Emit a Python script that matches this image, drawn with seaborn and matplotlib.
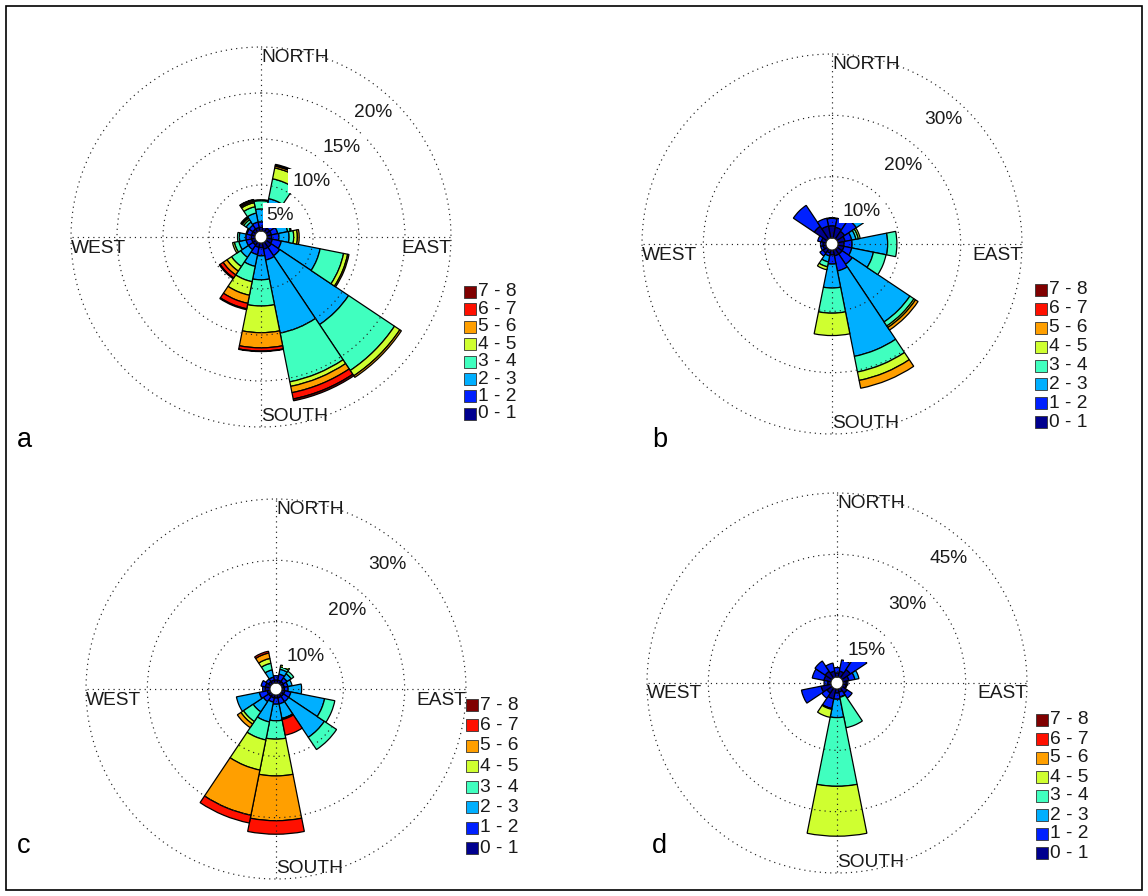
import numpy as np
import matplotlib
matplotlib.use("Agg")
import matplotlib.pyplot as plt
from matplotlib.patches import Rectangle
import seaborn as sns

sns.set_style("white")
plt.rcParams['font.family'] = ['Liberation Sans', 'DejaVu Sans']

# ---------------- data ----------------
directions = ["N", "NNE", "NE", "ENE", "E", "ESE", "SE", "SSE",
              "S", "SSW", "SW", "WSW", "W", "WNW", "NW", "NNW"]
direction_deg = [0, 22.5, 45, 67.5, 90, 112.5, 135, 157.5,
                 180, 202.5, 225, 247.5, 270, 292.5, 315, 337.5]
speed_classes = ["0 - 1", "1 - 2", "2 - 3", "3 - 4", "4 - 5", "5 - 6", "6 - 7", "7 - 8"]

# cumulative frequency (%) per direction, speed classes 0-1 ... 7-8
cum_a = [
    [0.4, 1.0, 2.4, 3.3, 3.4, 3.4, 3.4, 3.4],       # N
    [0.5, 1.2, 3.6, 5.8, 7.0, 7.2, 7.3, 7.4],       # NNE
    [0.5, 1.1, 2.2, 2.9, 3.0, 3.0, 3.0, 3.0],       # NE
    [0.5, 1.2, 2.3, 2.6, 2.7, 2.7, 2.7, 2.7],       # ENE
    [0.5, 1.3, 2.4, 2.9, 3.3, 3.5, 3.5, 3.5],       # E
    [0.6, 1.6, 5.9, 8.5, 8.95, 9.1, 9.1, 9.1],      # ESE
    [0.7, 1.8, 10.8, 16.8, 17.5, 17.7, 17.7, 17.7], # SE
    [0.7, 1.9, 10.0, 15.4, 15.9, 16.6, 17.3, 17.5], # SSE
    [0.5, 1.4, 4.0, 6.85, 9.75, 11.4, 11.75, 11.8], # S
    [0.5, 1.3, 2.6, 4.3, 5.8, 6.7, 7.3, 7.4],       # SSW
    [0.4, 1.0, 2.0, 3.2, 3.8, 4.3, 4.7, 4.8],       # SW
    [0.4, 1.0, 1.8, 2.3, 2.5, 2.5, 2.5, 2.5],       # WSW
    [0.4, 1.0, 1.7, 1.9, 1.9, 1.9, 1.9, 1.9],       # W
    [0.4, 0.9, 1.0, 1.0, 1.0, 1.0, 1.0, 1.0],       # WNW
    [0.4, 0.9, 1.3, 1.6, 1.8, 1.9, 2.0, 2.0],       # NW
    [0.4, 1.0, 2.0, 2.7, 3.15, 3.3, 3.45, 3.5],     # NNW
]
cum_b = [
    [2.0, 3.2, 3.3, 3.3, 3.3, 3.3, 3.3, 3.3],
    [1.8, 3.3, 3.3, 3.3, 3.3, 3.3, 3.3, 3.3],
    [1.5, 3.8, 5.2, 5.2, 5.2, 5.2, 5.2, 5.2],
    [1.2, 2.3, 3.0, 3.4, 3.7, 3.7, 3.7, 3.7],
    [1.0, 2.3, 8.1, 9.6, 9.6, 9.6, 9.6, 9.6],
    [1.0, 2.3, 5.9, 8.0, 8.0, 8.0, 8.0, 8.0],
    [1.0, 3.0, 14.3, 15.1, 15.4, 15.9, 15.9, 15.9],
    [1.0, 3.5, 17.7, 20.3, 21.7, 23.0, 23.0, 23.0],
    [0.8, 2.3, 6.2, 10.3, 13.95, 13.95, 13.95, 13.95],
    [0.5, 1.0, 2.0, 2.8, 3.3, 3.3, 3.3, 3.3],
    [0.8, 1.4, 1.4, 1.4, 1.4, 1.4, 1.4, 1.4],
    [0.5, 0.9, 0.9, 0.9, 0.9, 0.9, 0.9, 0.9],
    [0.5, 0.9, 0.9, 0.9, 0.9, 0.9, 0.9, 0.9],
    [0.8, 1.4, 1.4, 1.4, 1.4, 1.4, 1.4, 1.4],
    [2.5, 6.6, 6.6, 6.6, 6.6, 6.6, 6.6, 6.6],
    [2.0, 3.3, 3.3, 3.3, 3.3, 3.3, 3.3, 3.3],
]
cum_c = [
    [0.5, 1.2, 1.2, 1.2, 1.2, 1.2, 1.2, 1.2],
    [0.5, 1.5, 2.3, 2.7, 3.0, 3.0, 3.0, 3.0],
    [0.5, 1.2, 2.0, 2.5, 2.5, 2.5, 2.5, 2.5],
    [0.4, 1.0, 1.7, 1.7, 1.7, 1.7, 1.7, 1.7],
    [0.4, 1.0, 3.2, 3.2, 3.2, 3.2, 3.2, 3.2],
    [0.5, 1.5, 7.1, 8.8, 8.8, 8.8, 8.8, 8.8],
    [0.5, 1.5, 8.5, 10.9, 10.9, 10.9, 10.9, 10.9],
    [0.5, 1.5, 3.9, 4.0, 4.05, 4.1, 6.7, 6.7],
    [0.5, 1.5, 4.2, 7.2, 13.2, 20.5, 22.7, 22.7],
    [0.5, 1.2, 4.5, 7.5, 12.5, 20.0, 21.3, 21.3],
    [0.5, 1.5, 3.5, 5.4, 5.9, 6.6, 6.6, 6.6],
    [0.5, 1.8, 5.6, 5.6, 5.6, 5.6, 5.6, 5.6],
    [0.8, 1.2, 1.2, 1.2, 1.2, 1.2, 1.2, 1.2],
    [0.8, 1.5, 1.5, 1.5, 1.5, 1.5, 1.5, 1.5],
    [0.5, 1.0, 1.0, 1.0, 1.0, 1.0, 1.0, 1.0],
    [0.5, 1.0, 2.2, 3.3, 4.1, 5.0, 5.3, 5.3],
]
cum_d = [
    [1.0, 2.3, 2.3, 2.3, 2.3, 2.3, 2.3, 2.3],
    [1.5, 4.3, 4.3, 4.3, 4.3, 4.3, 4.3, 4.3],
    [2.5, 7.3, 7.3, 7.3, 7.3, 7.3, 7.3, 7.3],
    [1.5, 3.0, 4.0, 4.0, 4.0, 4.0, 4.0, 4.0],
    [0.8, 1.2, 1.2, 1.2, 1.2, 1.2, 1.2, 1.2],
    [0.8, 1.0, 1.0, 1.0, 1.0, 1.0, 1.0, 1.0],
    [1.5, 3.0, 3.0, 3.0, 3.0, 3.0, 3.0, 3.0],
    [0.8, 2.0, 2.1, 9.7, 9.7, 9.7, 9.7, 9.7],
    [1.0, 2.5, 7.0, 23.8, 36.0, 36.0, 36.0, 36.0],
    [2.5, 4.9, 5.0, 5.1, 7.1, 7.1, 7.1, 7.1],
    [1.5, 3.0, 3.0, 3.0, 3.0, 3.0, 3.0, 3.0],
    [2.5, 7.4, 7.4, 7.4, 7.4, 7.4, 7.4, 7.4],
    [0.8, 1.7, 1.7, 1.7, 1.7, 1.7, 1.7, 1.7],
    [1.8, 4.7, 4.7, 4.7, 4.7, 4.7, 4.7, 4.7],
    [2.0, 5.0, 5.0, 5.0, 5.0, 5.0, 5.0, 5.0],
    [1.5, 3.5, 3.5, 3.5, 3.5, 3.5, 3.5, 3.5],
]
ticks_a = [5, 10, 15, 20]
ticks_b = [10, 20, 30]
ticks_c = [10, 20, 30]
ticks_d = [15, 30, 45]
panel_letters = ["a", "b", "c", "d"]
cardinal_names = ["NORTH", "SOUTH", "WEST", "EAST"]

# ---------------- layout ----------------
W, H = 1148, 896
R = 190.0            # outer circle radius (px)
HOLE = 6.0           # central hole radius (px)
panels = [
    dict(cum=cum_a, ticks=ticks_a, c=(261, 237), leg=(464, 292, 17.4), let=(17, 447)),
    dict(cum=cum_b, ticks=ticks_b, c=(832, 244), leg=(1035, 290, 18.9), let=(652, 447)),
    dict(cum=cum_c, ticks=ticks_c, c=(276, 689), leg=(466, 705, 20.5), let=(17, 853)),
    dict(cum=cum_d, ticks=ticks_d, c=(837, 683), leg=(1036, 720, 19.0), let=(652, 853)),
]

# MATLAB-style jet colormap (64 entries) sampled at 8 classes
def matlab_jet(m=64):
    n = m // 4
    u = np.r_[np.arange(1, n + 1) / n, np.ones(n - 1), np.arange(n, 0, -1) / n]
    g = int(np.ceil(n / 2)) - (m % 4 == 1) + np.arange(1, len(u) + 1)
    r = g + n
    b = g - n
    out = np.zeros((m, 3))
    for idx, ch in ((r, 0), (g, 1), (b, 2)):
        ok = (idx >= 1) & (idx <= m)
        out[idx[ok] - 1, ch] = u[ok]
    return out

jet64 = matlab_jet(64)
sel = np.round(np.linspace(0, 63, len(speed_classes))).astype(int)
colors = sns.color_palette([tuple(jet64[i]) for i in sel])

fig = plt.figure(figsize=(W / 100, H / 100), dpi=100)
fig.patch.set_facecolor("white")

dot = (0, (1, 3.4))
gcol = "#222222"
FS = 13.8

theta = np.deg2rad(direction_deg)
width = 2 * np.pi / len(direction_deg)

for p in panels:
    cx, cy = p["c"]
    ax = fig.add_axes([(cx - R) / W, 1 - (cy + R) / H, 2 * R / W, 2 * R / H],
                      projection="polar")
    pmax = p["ticks"][-1]
    h = pmax * HOLE / (R - HOLE)
    ax.set_theta_zero_location("N")
    ax.set_theta_direction(-1)
    ax.set_ylim(0, pmax)
    ax.set_rorigin(-h)
    ax.spines["polar"].set_visible(False)
    ax.set_facecolor("white")

    cum = np.array(p["cum"], dtype=float)
    prev = np.zeros(len(direction_deg))
    for k in range(len(speed_classes)):
        hgt = cum[:, k] - prev
        m = hgt > 0
        if m.any():
            ax.bar(theta[m], hgt[m], width=width, bottom=prev[m], color=colors[k],
                   edgecolor="black", linewidth=0.9, align="center", zorder=1)
        prev = cum[:, k]

    ax.set_thetagrids([0, 90, 180, 270], labels=[""] * 4)
    ax.set_rgrids(p["ticks"][:-1], labels=[""] * (len(p["ticks"]) - 1))
    ax.set_axisbelow(False)
    ax.xaxis.grid(True, linestyle=dot, color=gcol, linewidth=0.85)
    ax.yaxis.grid(True, linestyle=dot, color=gcol, linewidth=0.85)
    tt = np.linspace(0, 2 * np.pi, 500)
    ax.plot(tt, np.full_like(tt, pmax), linestyle=dot, color=gcol, linewidth=0.85,
            clip_on=False, zorder=3)
    ax.tick_params(length=0, pad=0)

    # ring labels
    ang = np.deg2rad(48)
    for t in p["ticks"]:
        rc = R * (t + h) / (pmax + h)
        rl = (rc - 23) / (2 * R)
        ax.text(0.5 + rl * np.cos(ang), 0.5 + rl * np.sin(ang), f"{t}%",
                transform=ax.transAxes, ha="center", va="center", fontsize=FS,
                color="#1a1a1a", zorder=6,
                bbox=dict(facecolor="white", edgecolor="none", pad=2.6))

    # cardinal labels
    ax.text(0.5, 0.5 + 180 / (2 * R), cardinal_names[0], transform=ax.transAxes,
            ha="left", va="center", fontsize=FS, color="#1a1a1a", zorder=6)
    ax.text(0.5, 0.5 - 179 / (2 * R), cardinal_names[1], transform=ax.transAxes,
            ha="left", va="center", fontsize=FS, color="#1a1a1a", zorder=6)
    ax.text(0.0, 0.5 - 11 / (2 * R), cardinal_names[2], transform=ax.transAxes,
            ha="left", va="center", fontsize=FS, color="#1a1a1a", zorder=6)
    ax.text(1.0, 0.5 - 11 / (2 * R), cardinal_names[3], transform=ax.transAxes,
            ha="right", va="center", fontsize=FS, color="#1a1a1a", zorder=6)

# overlay for legends, letters, border
lax = fig.add_axes([0, 0, 1, 1])
lax.set_xlim(0, W)
lax.set_ylim(H, 0)
lax.axis("off")
lax.set_zorder(20)

for p, letter in zip(panels, panel_letters):
    x0, y0, dy = p["leg"]
    for i, (lab, col) in enumerate(zip(speed_classes[::-1], colors[::-1])):
        yc = y0 + i * dy
        lax.add_patch(Rectangle((x0, yc - 6), 12, 12, facecolor=col,
                                edgecolor="#333333", linewidth=0.6))
        lax.text(x0 + 14, yc, lab, ha="left", va="center", fontsize=FS, color="#1a1a1a")
    lx, ly = p["let"]
    lax.text(lx, ly, letter, ha="left", va="baseline", fontsize=19.5, color="black")

lax.add_patch(Rectangle((6, 6), W - 12, H - 12, fill=False, edgecolor="black", linewidth=1.2))

fig.savefig("out.png", dpi=100, facecolor="white")
